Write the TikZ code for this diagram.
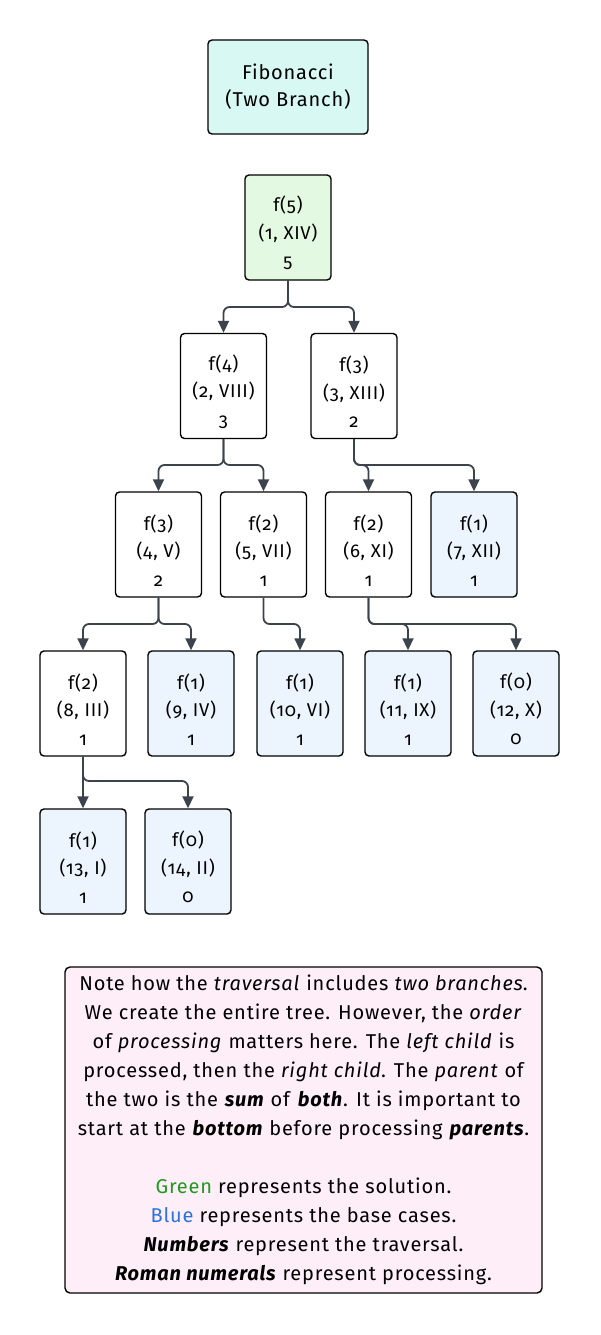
\documentclass[tikz,border=0pt]{standalone}
\usepackage{fontspec}
\setmainfont{Fira Sans}[Numbers=OldStyle, LetterSpace=4]
\usetikzlibrary{arrows.meta}
\definecolor{titlefill}{HTML}{D8F8F3}
\definecolor{greenfill}{HTML}{E3F9E1}
\definecolor{bluefill}{HTML}{ECF4FE}
\definecolor{notefill}{HTML}{FEEEF8}
\definecolor{edgegray}{HTML}{3D434C}
\definecolor{txtgreen}{HTML}{1E9A1E}
\definecolor{txtblue}{HTML}{2A72DE}
\newcommand\toppad{\rule{0pt}{27pt}}
\begin{document}
\begin{tikzpicture}[x=1pt,y=-1pt]
\tikzset{
 box/.style={draw=black, line width=1.4pt, rounded corners=4pt, minimum width=86pt, minimum height=105pt, inner sep=0pt, align=center, font=\fontsize{18.5}{27.5}\selectfont},
 plain/.style={box, fill=white},
 base/.style={box, fill=bluefill},
 sol/.style={box, fill=greenfill},
 edge/.style={draw=edgegray, line width=1.8pt, rounded corners=6pt, -{Triangle[length=12pt,width=11pt]}},
}
\useasboundingbox (0,0) rectangle (600,1335);
\fill[white] (0,0) rectangle (600,1335);

\node[draw=black, line width=1.4pt, rounded corners=4pt, fill=titlefill, minimum width=160pt, minimum height=94pt, inner sep=0pt, align=center, font=\fontsize{20}{27}\selectfont] (title) at (288,87) {Fibonacci\\(Two Branch)};

\node[sol] (n1) at (288,227.5) {\toppad f(5)\\(1, XIV)\\[1pt]5};
\node[plain] (n2) at (223.5,386) {\toppad f(4)\\(2, VIII)\\[1pt]3};
\node[plain] (n3) at (354,386) {\toppad f(3)\\(3, XIII)\\[1pt]2};
\node[plain] (n4) at (158.5,544.5) {\toppad f(3)\\(4, V)\\[1pt]2};
\node[plain] (n5) at (263.5,544.5) {\toppad f(2)\\(5, VII)\\[1pt]1};
\node[plain] (n6) at (368.5,544.5) {\toppad f(2)\\(6, XI)\\[1pt]1};
\node[base] (n7) at (474,544.5) {\toppad f(1)\\(7, XII)\\[1pt]1};
\node[plain] (n8) at (83,703.5) {\toppad f(2)\\(8, III)\\[1pt]1};
\node[base] (n9) at (191,703.5) {\toppad f(1)\\(9, IV)\\[1pt]1};
\node[base] (n10) at (300,703.5) {\toppad f(1)\\(10, VI)\\[1pt]1};
\node[base] (n11) at (408,703.5) {\toppad f(1)\\(11, IX)\\[1pt]1};
\node[base] (n12) at (516,703.5) {\toppad f(0)\\(12, X)\\[1pt]0};
\node[base] (n13) at (83,861.5) {\toppad f(1)\\(13, I)\\[1pt]1};
\node[base] (n14) at (188,861.5) {\toppad f(0)\\(14, II)\\[1pt]0};

\coordinate (l1) at (0,307);
\coordinate (l2) at (0,465);
\coordinate (l3) at (0,624);
\coordinate (l4) at (0,781);

\draw[edge] (n1.south) -- (n1.south |- l1) -| (n2.north);
\draw[edge] (n1.south) -- (n1.south |- l1) -| (n3.north);
\draw[edge] (n2.south) -- (n2.south |- l2) -| (n4.north);
\draw[edge] (n2.south) -- (n2.south |- l2) -| (n5.north);
\draw[edge] (n3.south) -- (n3.south |- l2) -| (n6.north);
\draw[edge] (n3.south) -- (n3.south |- l2) -| (n7.north);
\draw[edge] (n4.south) -- (n4.south |- l3) -| (n8.north);
\draw[edge] (n4.south) -- (n4.south |- l3) -| (n9.north);
\draw[edge] (n5.south) -- (n5.south |- l3) -| (n10.north);
\draw[edge] (n6.south) -- (n6.south |- l3) -| (n11.north);
\draw[edge] (n6.south) -- (n6.south |- l3) -| (n12.north);
\draw[edge] (n8.south) -- (n13.north);
\draw[edge] (n8.south) -- (n8.south |- l4) -| (n14.north);

\node[draw=black, line width=1.4pt, rounded corners=5pt, fill=notefill, minimum width=477pt, minimum height=326pt, inner sep=0pt, align=center, font=\fontsize{20}{29}\selectfont] (note) at (303.5,1130) {Note how the \textit{traversal} includes \textit{two branches}.\\
We create the entire tree. However, the \textit{order}\\
of \textit{processing} matters here. The \textit{left child} is\\
processed, then the \textit{right child}. The \textit{parent} of\\
the two is the \textbf{\textit{sum}} of \textbf{\textit{both}}. It is important to\\
start at the \textbf{\textit{bottom}} before processing \textbf{\textit{parents}}.\\
\\
\textcolor{txtgreen}{Green} represents the solution.\\
\textcolor{txtblue}{Blue} represents the base cases.\\
\textbf{\textit{Numbers}} represent the traversal.\\
\textbf{\textit{Roman numerals}} represent processing.};
\end{tikzpicture}
\end{document}
